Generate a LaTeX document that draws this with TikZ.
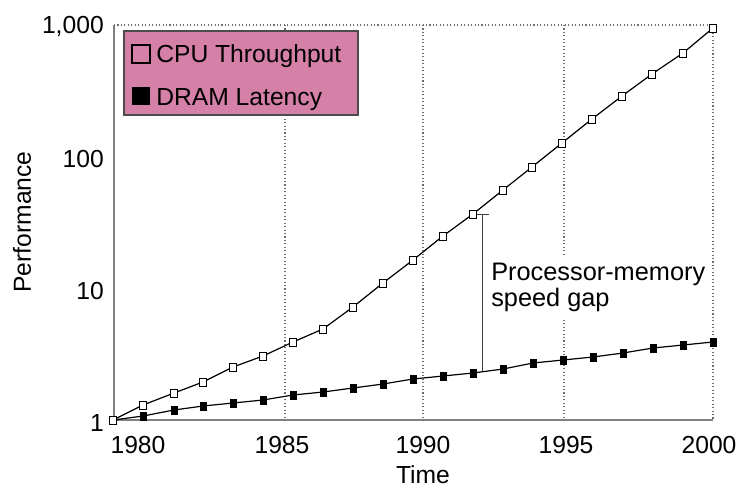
\documentclass[tikz,border=0pt]{standalone}
\usepackage{fontspec}
\setmainfont{Liberation Sans}
\usetikzlibrary{calc}
\definecolor{legendpink}{RGB}{213,128,166}
\definecolor{axisgray}{RGB}{128,128,128}
\def\cpudata{113/420,143/405,174/393,203/382,233/367,263/356,293/342,323/329,353/307,383/283,413/260,443/236,473/214,503/190,532/167,562/143,592/119,622/96,652/74,683/53,713/28}
\def\dramdata{113/420,143/416,174/410,203/406,233/403,263/400,293/395,323/392,353/388,383/384,413/379,443/376,473/373,503/369,533/363,563/360,593/357,623/353,653/348,683/345,713/342}

\begin{document}
\begin{tikzpicture}[x=0.75pt,y=-0.75pt,
		lbl/.style={font=\fontsize{18.5}{22}\selectfont,inner sep=0pt},
		gridline/.style={axisgray!85!black,line width=0.8pt,dash pattern=on 0.8pt off 1.8pt},
		axisline/.style={axisgray,line width=1.1pt},
		dataline/.style={black,line width=0.9pt},
		cpumark/.style={draw=black,fill=white,line width=0.7pt},
		drammark/.style={fill=black}]
		%%%%% START %%%%%
		\useasboundingbox (0,0) rectangle (738,487);
		
		\foreach \gx in {285,423,564}
			\draw[gridline] (\gx,25) -- (\gx,420);
		
		\draw[draw=black!70,fill=legendpink,line width=0.8pt] (124,31) rectangle (358,115);
		\draw[line width=1.6pt] (132,45) rectangle (150,63);
		\fill (132,87) rectangle (150,105);
		\node[lbl,anchor=base west] (cpuleg) at (156,62) {CPU Throughput};
		\node[lbl,anchor=base west] (dramleg) at (156,105) {DRAM Latency};
		
		\node[font=\fontsize{19}{19.5}\selectfont,align=left,fill=white,inner xsep=1.5pt,inner ysep=4.5pt,anchor=north west] (gaptext) at (489,257) {Processor-memory\\speed gap};
		
		\draw[gridline] (114,25) -- (713,25) -- (713,420);
		\draw[axisline] (114,25) -- (114,420) -- (713,420);
		
		\node[lbl,anchor=base east] (y1000) at (104,33) {1,000};
		\node[lbl,anchor=base east] (y100) at (104,167) {100};
		\node[lbl,anchor=base east] (y10) at (104,299) {10};
		\node[lbl,anchor=base east] (y1) at (104,431) {1};
		\node[lbl,rotate=90] (ylabel) at (22,222) {Performance};
		
		\node[lbl,anchor=base] (x1980) at (138,453) {1980};
		\node[lbl,anchor=base] (x1985) at (282,453) {1985};
		\node[lbl,anchor=base] (x1990) at (423,453) {1990};
		\node[lbl,anchor=base] (x1995) at (566,453) {1995};
		\node[lbl,anchor=base] (x2000) at (709,453) {2000};
		\node[lbl,anchor=base] (xlabel) at (423,483) {Time};
		
		% gap marker
		\coordinate (gaptop) at (482,214);
		\coordinate (gapbot) at (482,372);
		\draw[black!75,line width=0.7pt] (gaptop) -- (gapbot);
		\draw[black!75,line width=0.7pt] ($(gaptop)+(-7,0)$) -- ($(gaptop)+(7,0)$);
		
		\draw[dataline] (113,420) \foreach \x/\y in \dramdata {-- (\x,\y)};
		\foreach \x/\y in \dramdata
			\fill[drammark] (\x-3.5,\y-4.5) rectangle (\x+3.5,\y+4.5);
		
		\draw[dataline] (113,420) \foreach \x/\y in \cpudata {-- (\x,\y)};
		\foreach \x/\y in \cpudata
			\draw[cpumark] (\x-3.5,\y-4) rectangle (\x+3.5,\y+4);
		%%%%% END %%%%%
\end{tikzpicture}
\end{document}
